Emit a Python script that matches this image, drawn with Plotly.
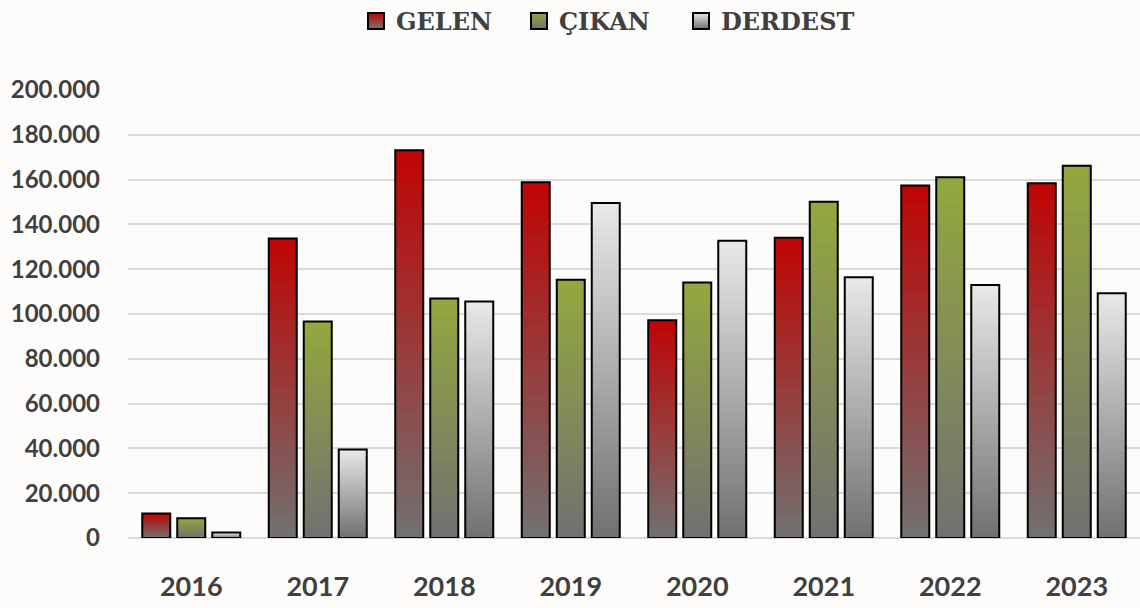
import plotly.graph_objects as go

years = ["2016", "2017", "2018", "2019", "2020", "2021", "2022", "2023"]
gelen = [10900, 133700, 173100, 158800, 97200, 134000, 157400, 158400]
cikan = [8800, 96600, 106900, 115300, 114100, 150100, 161100, 166200]
derdest = [2500, 39500, 105600, 149500, 132700, 116400, 112900, 109300]

series_names = ["GELEN", "ÇIKAN", "DERDEST"]
series_values = [gelen, cikan, derdest]
top_colors = [(192, 4, 4), (147, 168, 62), (232, 232, 232)]
bottom_color = (113, 113, 113)
legend_ids = ["legend", "legend2", "legend3"]
legend_symbol_x = [381, 544, 706]

N_STEPS = 40


def mix(c1, c2, t):
    return "rgb({},{},{})".format(*[round(a + (b - a) * t) for a, b in zip(c1, c2)])


fig = go.Figure()

for name, vals, top in zip(series_names, series_values, top_colors):
    # gradient: stacked overlapping slices from bottom (grey) to top (colour)
    for k in range(N_STEPS):
        frac = k / N_STEPS
        fig.add_trace(go.Bar(
            x=years,
            y=[v * (1 - frac) for v in vals],
            base=[v * frac for v in vals],
            offsetgroup=name,
            marker=dict(color=mix(bottom_color, top, (k + 0.5) / N_STEPS), line=dict(width=0)),
            showlegend=False,
            hoverinfo="skip",
        ))
    # outline
    fig.add_trace(go.Bar(
        x=years,
        y=vals,
        offsetgroup=name,
        name=name,
        marker=dict(color="rgba(0,0,0,0)", line=dict(color="#000000", width=2)),
        showlegend=False,
        hovertemplate=name + " %{x}: %{y:,d}<extra></extra>",
    ))

# legend entries
for name, top, lid in zip(series_names, top_colors, legend_ids):
    fig.add_trace(go.Scatter(
        x=[None], y=[None], mode="markers", name=name, legend=lid,
        marker=dict(symbol="square", size=16, color="rgb({},{},{})".format(*top),
                    gradient=dict(type="vertical", color="rgb({},{},{})".format(*bottom_color)),
                    line=dict(color="#000000", width=2)),
        hoverinfo="skip",
    ))

legend_style = dict(
    orientation="h", xanchor="left", y=0.965, yanchor="middle",
    xref="container", yref="container",
    font=dict(family="DejaVu Serif", size=24, color="#404040", weight="bold"),
    bgcolor="rgba(0,0,0,0)",
)

fig.update_layout(
    width=1140, height=608,
    barmode="group",
    bargap=0.17,
    bargroupgap=0.2,
    separators=",.",
    paper_bgcolor="#fdfcfa",
    plot_bgcolor="#fdfcfa",
    margin=dict(l=128, r=0, t=90, b=70, autoexpand=False),
    showlegend=True,
    xaxis=dict(
        type="category",
        tickfont=dict(family="Lato", size=27, color="#404040", weight="bold"),
        showgrid=False, showline=False, ticks="", ticklabelstandoff=30,
    ),
    yaxis=dict(
        range=[0, 200000],
        tickvals=[0, 20000, 40000, 60000, 80000, 100000, 120000, 140000, 160000, 180000, 200000],
        tickformat=",d",
        tickfont=dict(family="Lato", size=24, color="#404040", weight="bold"),
        showgrid=True, gridcolor="#d9d9d9", gridwidth=1.5,
        zeroline=True, zerolinecolor="#d9d9d9", zerolinewidth=1.5,
        showline=False, ticks="", ticklabelstandoff=27,
    ),
)
for lid, sx in zip(legend_ids, legend_symbol_x):
    fig.update_layout({lid: dict(legend_style, x=(sx - 25) / 1140)})

fig.write_html("out.html", config={"displayModeBar": False},
               post_script="document.body.style.margin='0';")
